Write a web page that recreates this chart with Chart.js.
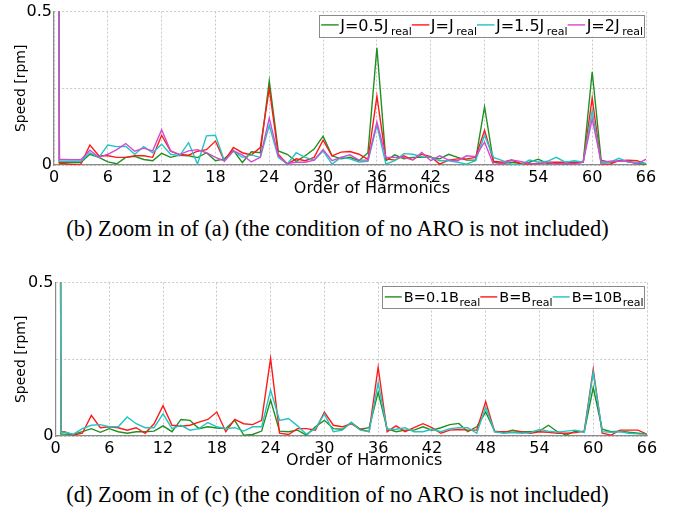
<!DOCTYPE html>
<html>
<head>
<meta charset="utf-8">
<script src="https://cdn.jsdelivr.net/npm/chart.js@4/dist/chart.umd.min.js"></script>
<style>
  html, body { margin: 0; padding: 0; background: #fff; }
  body { width: 693px; height: 516px; position: relative; overflow: hidden; }
  .panel { position: absolute; left: 0; width: 693px; height: 205px; }
  .caption {
    position: absolute; left: -9px; width: 693px; text-align: center;
    font-family: "Liberation Serif", "Times New Roman", serif;
    font-size: 22.4px; line-height: 26px; color: #000; white-space: nowrap;
  }
</style>
</head>
<body>
<div class="panel" style="top:0px"><canvas id="chartJ" width="693" height="205"></canvas></div>
<div class="caption" style="top:216px">(b) Zoom in of (a) (the condition of no ARO is not included)</div>
<div class="panel" style="top:271px"><canvas id="chartB" width="693" height="205"></canvas></div>
<div class="caption" style="top:482px">(d) Zoom in of (c) (the condition of no ARO is not included)</div>

<script>
// Harmonic orders (0 = DC component, far above the zoomed range)
const orders = [0, 0.6, 1, 2, 3, 4, 5, 6, 7, 8, 9, 10, 11, 12, 13, 14, 15, 16, 17, 18, 19, 20,
  21, 22, 23, 24, 25, 26, 27, 28, 29, 30, 31, 32, 33, 34, 35, 36, 37, 38, 39, 40, 41, 42, 43,
  44, 45, 46, 47, 48, 49, 50, 51, 52, 53, 54, 55, 56, 57, 58, 59, 60, 61, 62, 63, 64, 65, 66];

const xTicks = [0, 6, 12, 18, 24, 30, 36, 42, 48, 54, 60, 66];
const yTicks = [0, 0.25, 0.5];
const yTickLabels = ['0', '', '0.5'];

// Speed harmonics [rpm] for different inertia J
const speedJ05 = [10, 0.009, 0.009, 0.008, 0.009, 0.035, 0.025, 0.010, 0.004, 0.025, 0.028, 0.018,
  0.014, 0.038, 0.025, 0.032, 0.030, 0.024, 0.040, 0.014, 0.020, 0.048, 0.008, 0.043, 0.040, 0.274,
  0.046, 0.035, 0.012, 0.030, 0.052, 0.094, 0.030, 0.020, 0.025, 0.014, 0.040, 0.382, 0.014, 0.033,
  0.020, 0.025, 0.025, 0.025, 0.020, 0.035, 0.025, 0.016, 0.016, 0.190, 0.009, 0.005, 0.009, 0.005,
  0.009, 0.019, 0.005, 0.006, 0.003, 0.005, 0.009, 0.304, 0.016, 0.008, 0.014, 0.012, 0.005, 0.003];
const speedJ10 = [10, 0.005, 0.005, 0.002, 0.003, 0.065, 0.030, 0.030, 0.025, 0.025, 0.030, 0.030,
  0.025, 0.097, 0.045, 0.034, 0.032, 0.045, 0.050, 0.078, 0.013, 0.057, 0.040, 0.033, 0.057, 0.250,
  0.035, 0.003, 0.020, 0.014, 0.025, 0.081, 0.030, 0.042, 0.044, 0.035, 0.018, 0.224, 0.020, 0.016,
  0.030, 0.017, 0.035, 0.027, 0.003, 0.016, 0.020, 0.020, 0.025, 0.113, 0.012, 0.009, 0.016, 0.005,
  0.003, 0.005, 0.009, 0.009, 0.009, 0.009, 0.009, 0.218, 0.003, 0.003, 0.014, 0.016, 0.014, 0.003];
const speedJ15 = [10, 0.012, 0.012, 0.012, 0.012, 0.040, 0.025, 0.065, 0.060, 0.061, 0.035, 0.060,
  0.040, 0.068, 0.035, 0.030, 0.073, 0.003, 0.095, 0.097, 0.013, 0.045, 0.025, 0.033, 0.025, 0.129,
  0.025, 0.003, 0.040, 0.025, 0.016, 0.046, 0.003, 0.025, 0.020, 0.010, 0.012, 0.130, 0.003, 0.014,
  0.037, 0.035, 0.027, 0.025, 0.014, 0.014, 0.009, 0.003, 0.014, 0.097, 0.025, 0.014, 0.003, 0.000,
  0.016, 0.009, 0.012, 0.025, 0.009, 0.014, 0.009, 0.177, 0.005, 0.009, 0.022, 0.009, 0.009, 0.005];
const speedJ20 = [10, 0.018, 0.018, 0.017, 0.017, 0.048, 0.025, 0.035, 0.050, 0.070, 0.045, 0.055,
  0.046, 0.115, 0.046, 0.034, 0.046, 0.050, 0.040, 0.025, 0.013, 0.046, 0.033, 0.010, 0.025, 0.153,
  0.030, 0.005, 0.009, 0.009, 0.016, 0.050, 0.014, 0.025, 0.033, 0.016, 0.016, 0.140, 0.025, 0.025,
  0.025, 0.016, 0.041, 0.014, 0.030, 0.016, 0.014, 0.030, 0.027, 0.075, 0.001, 0.005, 0.016, 0.012,
  0.005, 0.003, 0.009, 0.003, 0.005, 0.003, 0.009, 0.150, 0.009, 0.012, 0.012, 0.012, 0.003, 0.019];

// Speed harmonics [rpm] for different friction B
const speedB01 = [10, 0.006, 0.006, 0.005, 0.014, 0.024, 0.012, 0.024, 0.014, 0.009, 0.014, 0.014,
  0.016, 0.033, 0.014, 0.054, 0.051, 0.024, 0.030, 0.026, 0.024, 0.051, 0.003, 0.005, 0.016, 0.117,
  0.016, 0.014, 0.019, 0.003, 0.030, 0.051, 0.024, 0.022, 0.044, 0.022, 0.027, 0.142, 0.024, 0.014,
  0.019, 0.019, 0.030, 0.019, 0.027, 0.037, 0.041, 0.014, 0.030, 0.078, 0.016, 0.012, 0.019, 0.014,
  0.014, 0.016, 0.035, 0.014, 0.003, 0.016, 0.014, 0.158, 0.022, 0.014, 0.016, 0.012, 0.009, 0.006];
const speedB10 = [10, 0.014, 0.014, 0.003, 0.009, 0.067, 0.027, 0.030, 0.027, 0.019, 0.027, 0.009,
  0.040, 0.099, 0.035, 0.032, 0.035, 0.045, 0.054, 0.078, 0.014, 0.054, 0.040, 0.037, 0.051, 0.253,
  0.009, 0.005, 0.024, 0.024, 0.019, 0.078, 0.035, 0.030, 0.040, 0.022, 0.014, 0.224, 0.014, 0.033,
  0.014, 0.027, 0.040, 0.027, 0.009, 0.019, 0.021, 0.019, 0.019, 0.112, 0.014, 0.014, 0.012, 0.014,
  0.009, 0.014, 0.012, 0.009, 0.009, 0.011, 0.016, 0.217, 0.009, 0.003, 0.019, 0.019, 0.019, 0.006];
const speedB100 = [10, 0.012, 0.012, 0.006, 0.024, 0.035, 0.037, 0.030, 0.030, 0.062, 0.040, 0.027,
  0.027, 0.072, 0.024, 0.035, 0.019, 0.024, 0.044, 0.030, 0.024, 0.027, 0.016, 0.030, 0.030, 0.150,
  0.051, 0.057, 0.033, 0.006, 0.024, 0.072, 0.014, 0.019, 0.044, 0.019, 0.014, 0.174, 0.021, 0.022,
  0.027, 0.014, 0.014, 0.022, 0.014, 0.024, 0.027, 0.027, 0.009, 0.094, 0.014, 0.009, 0.011, 0.009,
  0.011, 0.021, 0.016, 0.012, 0.016, 0.019, 0.012, 0.208, 0.014, 0.012, 0.014, 0.009, 0.007, 0.006];

const labelsJ = [['J=0.5J', 'real'], ['J=J', 'real'], ['J=1.5J', 'real'], ['J=2J', 'real']];
const labelsB = [['B=0.1B', 'real'], ['B=B', 'real'], ['B=10B', 'real']];

const GREEN = '#1f8f1f', RED = '#ff1a1a', CYAN = '#22c4c4', MAGENTA = '#d24ad2';
const FONT = '"DejaVu Sans", Verdana, sans-serif';

Chart.defaults.font.family = FONT;
Chart.defaults.color = '#000';

// Axis titles and a legend with subscripted labels
const decor = {
  id: 'decor',
  afterDraw(chart, args, o) {
    const ctx = chart.ctx, a = chart.chartArea;
    ctx.save();
    ctx.fillStyle = '#000';
    // y title
    ctx.font = '14px ' + FONT;
    ctx.textAlign = 'center';
    ctx.textBaseline = 'middle';
    ctx.save();
    ctx.translate(o.yTitleX, (a.top + a.bottom) / 2);
    ctx.rotate(-Math.PI / 2);
    ctx.fillText('Speed [rpm]', 0, 0);
    ctx.restore();
    // x title
    ctx.font = '16px ' + FONT;
    ctx.textBaseline = 'alphabetic';
    ctx.fillText('Order of Harmonics', (a.left + a.right) / 2 + o.xTitleShift, a.bottom + o.xTitleDrop);

    // legend
    const L = o.legend;
    const ds = chart.data.datasets;
    const mainFont = L.size + 'px ' + FONT, subFont = L.subSize + 'px ' + FONT;
    const parts = ds.map(d => {
      ctx.font = mainFont; const wm = ctx.measureText(d.label).width;
      ctx.font = subFont; const ws = ctx.measureText(d.sub).width;
      return { wm, ws };
    });
    let total = L.padL + L.padR;
    parts.forEach(p => { total += L.line + L.lineGap + p.wm + L.subGap + p.ws; });
    const right = a.right - L.offR, left = right - total, top = a.top + L.offT;
    ctx.fillStyle = '#fff';
    ctx.fillRect(left, top, total, L.h);
    ctx.strokeStyle = '#8a8a8a';
    ctx.lineWidth = 1;
    ctx.strokeRect(Math.round(left) + 0.5, Math.round(top) + 0.5, Math.round(total), Math.round(L.h));
    let x = left + L.padL;
    ctx.textAlign = 'left';
    ds.forEach((d, i) => {
      ctx.strokeStyle = d.borderColor;
      ctx.lineWidth = 1.4;
      ctx.beginPath();
      ctx.moveTo(x, top + L.lineY);
      ctx.lineTo(x + L.line, top + L.lineY);
      ctx.stroke();
      x += L.line + L.lineGap;
      ctx.fillStyle = '#000';
      ctx.font = mainFont;
      ctx.fillText(d.label, x, top + L.base);
      x += parts[i].wm + L.subGap;
      ctx.font = subFont;
      ctx.fillText(d.sub, x, top + L.subBase);
      x += parts[i].ws;
    });
    ctx.restore();
  }
};

function makeChart(id, series, labels, colors, cfg) {
  const n = series.length;
  const datasets = series.map((s, i) => ({
    label: labels[i][0],
    sub: labels[i][1],
    data: orders.map((h, k) => ({ x: h, y: s[k] })),
    borderColor: colors[i],
    borderWidth: 1.4,
    pointRadius: 0,
    tension: 0,
    fill: false,
    order: n - i   // later series drawn on top
  }));
  return new Chart(document.getElementById(id), {
    type: 'line',
    data: { datasets },
    options: {
      responsive: false,
      animation: false,
      events: [],
      layout: { padding: { top: cfg.top, right: cfg.right, left: 0, bottom: 0 } },
      plugins: {
        legend: { display: false },
        tooltip: { enabled: false },
        decor: cfg.decor
      },
      scales: {
        x: {
          type: 'linear', min: 0, max: 66,
          afterBuildTicks: sc => { sc.ticks = xTicks.map(v => ({ value: v })); },
          afterFit: sc => { sc.height = cfg.xHeight; },
          ticks: { font: { size: 16 }, padding: cfg.xPad, maxRotation: 0, autoSkip: false, callback: v => String(v) },
          grid: { color: '#c8c8c8', lineWidth: 1, drawTicks: false },
          border: { color: '#8a8a8a', width: 1.2, dash: [2, 2] }
        },
        y: {
          type: 'linear', min: 0, max: 0.5,
          afterBuildTicks: sc => { sc.ticks = yTicks.map(v => ({ value: v })); },
          afterFit: sc => { sc.width = cfg.yWidth; },
          ticks: { font: { size: 16 }, padding: 2, callback: (v, i) => yTickLabels[yTicks.indexOf(v)] },
          grid: { color: '#c8c8c8', lineWidth: 1, drawTicks: false },
          border: { color: '#8a8a8a', width: 1.2, dash: [2, 2] }
        }
      }
    },
    plugins: [decor]
  });
}

makeChart('chartJ', [speedJ05, speedJ10, speedJ15, speedJ20], labelsJ, [GREEN, RED, CYAN, MAGENTA], {
  top: 10, right: 47, xHeight: 40, yWidth: 54, xPad: 3,
  decor: {
    yTitleX: 21.5, xTitleShift: 22, xTitleDrop: 28,
    legend: { size: 16, subSize: 11, offR: 2, offT: 3.3, h: 21.7, padL: 2, padR: 1,
      line: 17.5, lineGap: 1.5, subGap: 2.5, lineY: 10, base: 16, subBase: 20 }
  }
});

makeChart('chartB', [speedB01, speedB10, speedB100], labelsB, [GREEN, RED, CYAN], {
  top: 10, right: 46, xHeight: 40, yWidth: 55.5, xPad: 3,
  decor: {
    yTitleX: 21.5, xTitleShift: 13, xTitleDrop: 29,
    legend: { size: 14.5, subSize: 11, offR: 2.5, offT: 3.3, h: 22.4, padL: 2.5, padR: 1,
      line: 17, lineGap: 2, subGap: 0.5, lineY: 11, base: 16, subBase: 20 }
  }
});
</script>
</body>
</html>
